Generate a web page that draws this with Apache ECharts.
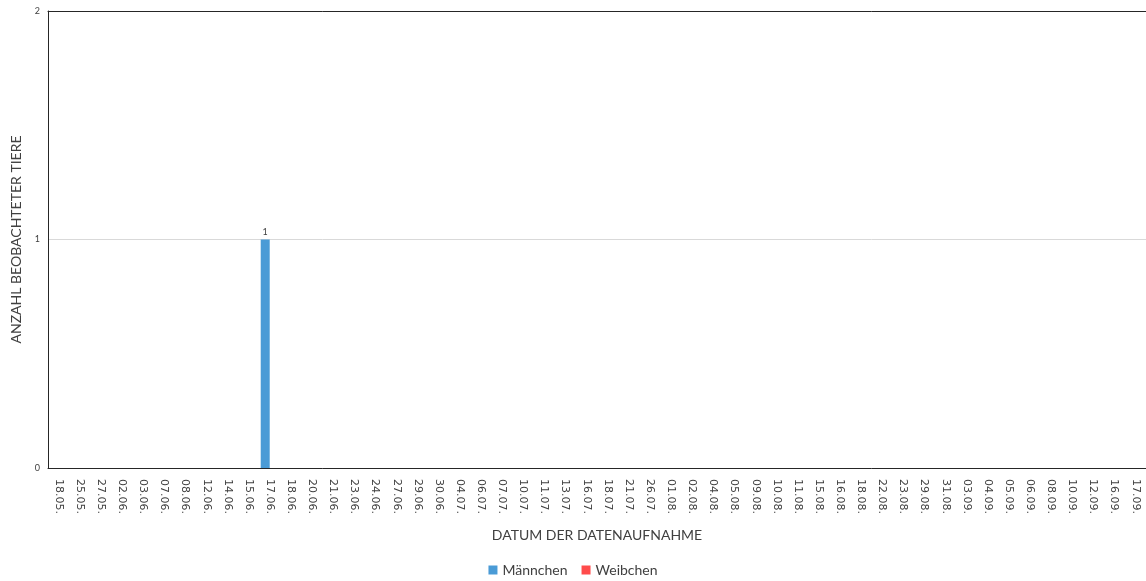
<!DOCTYPE html>
<html>
<head>
<meta charset="utf-8">
<script src="https://cdn.jsdelivr.net/npm/echarts@6/dist/echarts.min.js"></script>
<style>
  html, body { margin: 0; padding: 0; background: #fff; }
  #chart { width: 1146px; height: 581px; }
</style>
</head>
<body>
<div id="chart"></div>
<script>
// Observation dates
const dates = [
  '18.05.', '25.05.', '27.05.', '02.06.', '03.06.', '07.06.', '08.06.', '12.06.', '14.06.', '15.06.',
  '17.06.', '18.06.', '20.06.', '21.06.', '23.06.', '24.06.', '27.06.', '29.06.', '30.06.', '04.07.',
  '06.07.', '07.07.', '10.07.', '11.07.', '13.07.', '16.07.', '18.07.', '21.07.', '26.07.', '01.08.',
  '02.08.', '04.08.', '05.08.', '09.08.', '10.08.', '11.08.', '15.08.', '16.08.', '18.08.', '22.08.',
  '23.08.', '29.08.', '31.08.', '03.09.', '04.09.', '05.09.', '06.09.', '08.09.', '10.09.', '12.09.',
  '16.09.', '17.09.'
];

// Counted animals per date
const maennchen = [
  0, 0, 0, 0, 0, 0, 0, 0, 0, 0,
  1, 0, 0, 0, 0, 0, 0, 0, 0, 0,
  0, 0, 0, 0, 0, 0, 0, 0, 0, 0,
  0, 0, 0, 0, 0, 0, 0, 0, 0, 0,
  0, 0, 0, 0, 0, 0, 0, 0, 0, 0,
  0, 0
];
const weibchen = [
  0, 0, 0, 0, 0, 0, 0, 0, 0, 0,
  0, 0, 0, 0, 0, 0, 0, 0, 0, 0,
  0, 0, 0, 0, 0, 0, 0, 0, 0, 0,
  0, 0, 0, 0, 0, 0, 0, 0, 0, 0,
  0, 0, 0, 0, 0, 0, 0, 0, 0, 0,
  0, 0
];

const yTicks = { min: 0, max: 2, interval: 1 };

const chart = echarts.init(document.getElementById('chart'), null, { renderer: 'canvas' });

const valueLabel = {
  show: true,
  position: 'top',
  distance: 3,
  fontSize: 9,
  color: '#404040',
  fontFamily: 'Lato',
  formatter: p => (p.value ? String(p.value) : '')
};

chart.setOption({
  animation: false,
  backgroundColor: '#ffffff',
  grid: { left: 48, top: 11, right: 0, bottom: 113 },
  legend: {
    bottom: -1,
    left: 'center',
    itemWidth: 9,
    itemHeight: 9,
    itemGap: 14,
    icon: 'rect',
    textStyle: { fontFamily: 'Lato', fontSize: 14, color: '#404040' },
    data: ['Männchen', 'Weibchen']
  },
  xAxis: [
    {
      type: 'category',
      data: dates,
      name: 'DATUM DER DATENAUFNAHME',
      nameLocation: 'middle',
      nameGap: 60,
      nameTextStyle: { fontFamily: 'Lato', fontSize: 14, color: '#404040' },
      axisLine: { lineStyle: { color: '#262626', width: 1 } },
      axisTick: { show: false },
      axisLabel: {
        rotate: -90,
        interval: 0,
        margin: 11,
        fontFamily: 'DejaVu Sans',
        fontSize: 11,
        color: '#404040'
      }
    },
    {
      // top frame line of the plot area
      type: 'category',
      position: 'top',
      data: dates,
      axisLine: { show: true, lineStyle: { color: '#262626', width: 1 } },
      axisTick: { show: false },
      axisLabel: { show: false },
      splitLine: { show: false }
    }
  ],
  yAxis: {
    type: 'value',
    min: yTicks.min,
    max: yTicks.max,
    interval: yTicks.interval,
    name: 'ANZAHL BEOBACHTETER TIERE',
    nameLocation: 'middle',
    nameGap: 24,
    nameTextStyle: { fontFamily: 'Lato', fontSize: 14, color: '#404040' },
    axisLine: { show: true, lineStyle: { color: '#262626', width: 1 } },
    axisTick: { show: false },
    axisLabel: { fontFamily: 'Lato', fontSize: 9, color: '#404040', margin: 8 },
    splitLine: { lineStyle: { color: '#d9d9d9', width: 1 } }
  },
  series: [
    {
      name: 'Männchen',
      type: 'bar',
      data: maennchen,
      barWidth: 9,
      barGap: '0%',
      itemStyle: { color: '#4a9bd6' },
      label: valueLabel
    },
    {
      name: 'Weibchen',
      type: 'bar',
      data: weibchen,
      barWidth: 9,
      itemStyle: { color: '#ff4b4b' },
      label: valueLabel
    }
  ]
});
</script>
</body>
</html>
